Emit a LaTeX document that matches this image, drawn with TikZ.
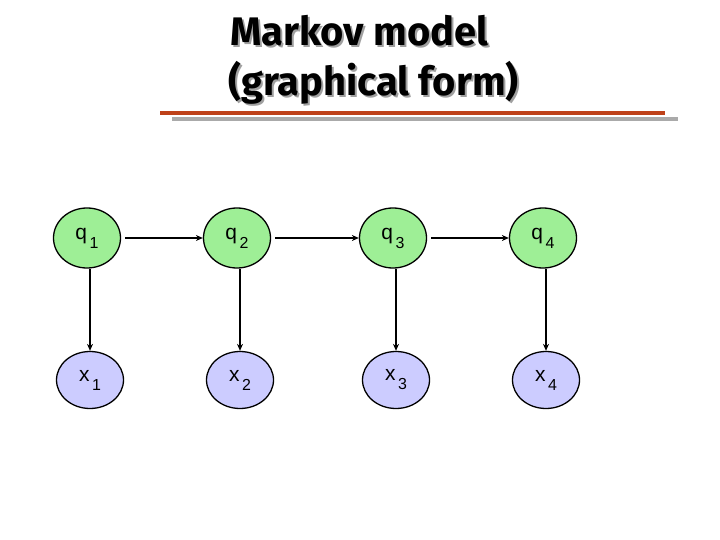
\documentclass[tikz,border=0pt]{standalone}
\usepackage{fontspec}
\setmainfont{Liberation Sans}
\newfontfamily\titlefont{Fira Sans}
\definecolor{qgreen}{RGB}{158,239,150}
\definecolor{xblue}{RGB}{204,204,255}
\definecolor{rulered}{RGB}{190,65,25}
\definecolor{rulegray}{RGB}{170,170,170}
\definecolor{shadowgray}{RGB}{160,160,160}
\tikzset{
  qnode/.style={ellipse, draw=black, line width=1.3pt, fill=qgreen, minimum width=67bp, minimum height=60bp, inner sep=0pt},
  xnode/.style={ellipse, draw=black, line width=1.3pt, fill=xblue, minimum width=67bp, minimum height=57bp, inner sep=0pt},
  conn/.style={draw=black, line width=1.1pt, -{Stealth[length=7bp,width=6bp]}},
  titletext/.style={anchor=base west, inner sep=0pt, font=\titlefont\bfseries\fontsize{40}{44}\selectfont},
}
\usetikzlibrary{shapes.geometric,arrows.meta}
\newcommand{\lbl}[2]{\fontsize{21}{21}\selectfont #1\raisebox{-9bp}{\fontsize{16}{16}\selectfont\,#2}}
\begin{document}
\begin{tikzpicture}[x=1bp,y=-1bp]
\useasboundingbox (0,0) rectangle (720,540);
% title with shadow
\node[titletext, text=shadowgray] (t1s) at (232,48) {Markov model};
\node[titletext] (t1) at (230,46) {Markov model};
\node[titletext, text=shadowgray] (t2s) at (230,98) {(graphical form)};
\node[titletext] (t2) at (228,96) {(graphical form)};
% rules
\fill[rulegray] (172,117) rectangle (678,121);
\fill[rulered] (160,111) rectangle (665,115);
% nodes
\foreach \i/\xq/\xx in {1/87/90, 2/237/240, 3/393/396, 4/543/546}{
  \node[qnode] (q\i) at (\xq,238) {\lbl{q}{\i}};
  \node[xnode] (x\i) at (\xx,380) {\lbl{x}{\i}};
}
\foreach \i in {1,...,4}{
  \draw[conn] (x\i.north |- q\i.south) -- (x\i.north);
}
\draw[conn, shorten <=4bp] (q1) -- (q2);
\draw[conn, shorten <=4bp] (q2) -- (q3);
\draw[conn, shorten <=4bp] (q3) -- (q4);
\end{tikzpicture}
\end{document}
